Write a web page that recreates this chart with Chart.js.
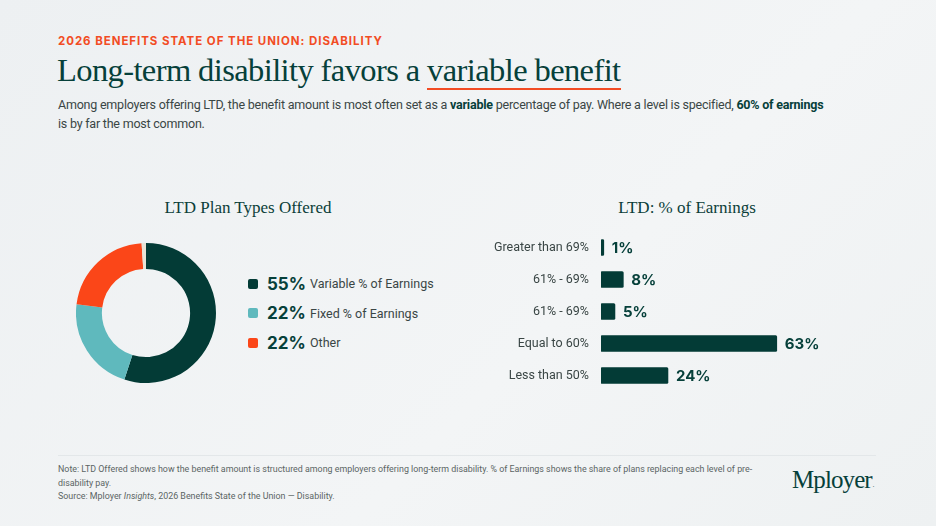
<!DOCTYPE html>
<html>
<head>
<meta charset="utf-8">
<script src="https://cdn.jsdelivr.net/npm/chart.js@4.4.1/dist/chart.umd.min.js"></script>
<style>
  html, body { margin: 0; padding: 0; }
  body {
    width: 936px; height: 526px; overflow: hidden; position: relative;
    background: linear-gradient(135deg, #edf0f2 0%, #f3f5f6 60%, #eef1f2 100%);
    font-family: Roboto, Inter, sans-serif; color: #033b36;
  }
  .kicker {
    position: absolute; left: 58px; top: 34px; font-family: Inter, sans-serif;
    font-size: 11.5px; font-weight: 700; letter-spacing: 0.95px; color: #f24c24;
  }
  .title {
    position: absolute; left: 57px; top: 52px;
    font-family: "Liberation Serif", serif; font-size: 32.5px; color: #06403a;
    letter-spacing: -0.6px;
  }
  .title u { text-decoration: none; border-bottom: 2px solid #f24c24; }
  .lede {
    position: absolute; left: 58px; top: 95px; width: 768px;
    font-size: 12.5px; line-height: 19px; color: #3a4645; letter-spacing: -0.22px;
  }
  .lede b { color: #06403a; font-weight: 700; }
  .subhead {
    position: absolute; top: 198px; font-family: "Liberation Serif", serif;
    font-size: 17px; color: #0b3e39; text-align: center;
  }
  #donutWrap { position: absolute; left: 76px; top: 243px; width: 140px; height: 140px; }
  /* the y scale keeps ~11.5px above and below for its first/last labels */
  #barWrap { position: absolute; left: 480px; top: 219.5px; width: 400px; height: 183px; }
  .legend { position: absolute; left: 248px; top: 269px; }
  .legend .row { display: flex; align-items: center; height: 29.5px; }
  .legend .sw { width: 10px; height: 10px; border-radius: 2px; margin-right: 9px; }
  .legend .pct { font-family: Inter, sans-serif; font-size: 17px; font-weight: 700; width: 43px; color: #06403a; }
  .legend .lab { font-size: 12.5px; color: #3a4645; }
  .rule { position: absolute; left: 58px; right: 60px; top: 455px; border-top: 1px solid #e3e7e9; }
  .note {
    position: absolute; left: 58px; top: 463px; width: 704px;
    font-size: 8.9px; line-height: 13.5px; color: #5b6564;
  }
  .logo {
    position: absolute; left: 792px; top: 466px;
    font-family: "Liberation Serif", serif; font-size: 25px; color: #06403a; letter-spacing: -0.9px;
  }
  .logo span { font-size: 6px; vertical-align: 1px; margin-left: 1px; }
</style>
</head>
<body>
<div class="kicker">2026 BENEFITS STATE OF THE UNION: DISABILITY</div>
<div class="title">Long-term disability favors a <u>variable benefit</u></div>
<div class="lede">Among employers offering LTD, the benefit amount is most often set as a <b>variable</b> percentage of pay. Where a level is specified, <b>60% of earnings</b> is by far the most common.</div>

<div class="subhead" style="left:148px; width:200px;">LTD Plan Types Offered</div>
<div class="subhead" style="left:587px; width:200px;">LTD: % of Earnings</div>

<div id="donutWrap"><canvas id="donut"></canvas></div>
<div class="legend" id="legend"></div>

<div id="barWrap"><canvas id="bars"></canvas></div>

<div class="rule"></div>
<div class="note">Note: LTD Offered shows how the benefit amount is structured among employers offering long-term disability. % of Earnings shows the share of plans replacing each level of pre-disability pay.<br>Source: Mployer <i>Insights</i>, 2026 Benefits State of the Union — Disability.</div>
<div class="logo">Mployer<span>.</span></div>

<script>
// ================================
// DATA
// ================================
const planTypes = ["Variable % of Earnings", "Fixed % of Earnings", "Other", ""];
const planShares = [55, 22, 22, 1];
const planColors = ["#033b36", "#5fb9bd", "#fb4618", "#e9e3d6"];

const earningLevels = ["Greater than 69%", "61% - 69%", "61% - 69%", "Equal to 60%", "Less than 50%"];
const earningShares = [1, 8, 5, 63, 24];

// ================================
// DONUT
// ================================
new Chart(document.getElementById("donut").getContext("2d"), {
    type: "doughnut",
    data: {
        labels: planTypes,
        datasets: [{
            data: planShares,
            backgroundColor: planColors,
            borderWidth: 0
        }]
    },
    options: {
        responsive: true,
        maintainAspectRatio: false,
        animation: false,
        cutout: "63%",
        plugins: { legend: { display: false }, tooltip: { enabled: false } }
    }
});

// html legend from the same arrays (skip the unlabeled remainder)
const legend = document.getElementById("legend");
planTypes.forEach((name, i) => {
    if (!name) return;
    const row = document.createElement("div");
    row.className = "row";
    row.innerHTML = `<div class="sw" style="background:${planColors[i]}"></div>` +
        `<div class="pct">${planShares[i]}%</div><div class="lab">${name}</div>`;
    legend.appendChild(row);
});

// ================================
// BARS
// ================================
const valueLabels = {
    id: "valueLabels",
    afterDatasetsDraw(chart) {
        const ctx = chart.ctx;
        const meta = chart.getDatasetMeta(0);
        ctx.save();
        ctx.font = "700 15px Inter";
        ctx.fillStyle = "#06403a";
        ctx.textBaseline = "middle";
        meta.data.forEach((bar, i) => {
            ctx.fillText(earningShares[i] + "%", bar.x + 8, bar.y + 1);
        });
        ctx.restore();
    }
};

new Chart(document.getElementById("bars").getContext("2d"), {
    type: "bar",
    data: {
        labels: earningLevels,
        datasets: [{
            data: earningShares,
            backgroundColor: "#033b36",
            barThickness: 16,
            borderRadius: 1.5,
            borderSkipped: false
        }]
    },
    options: {
        indexAxis: "y",
        responsive: true,
        maintainAspectRatio: false,
        animation: false,
        layout: { padding: 0 },
        plugins: { legend: { display: false }, tooltip: { enabled: false } },
        scales: {
            x: { min: 0, max: 100, display: false },
            y: {
                grid: { display: false },
                border: { display: false },
                afterFit(scale) { scale.width = 121; },
                ticks: {
                    padding: 4,
                    color: "#3a4645",
                    font: { family: "Roboto", size: 12.5 }
                }
            }
        }
    },
    plugins: [valueLabels]
});
</script>
</body>
</html>
